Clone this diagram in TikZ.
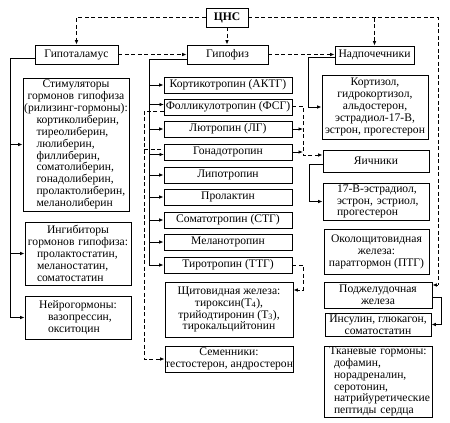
\documentclass[tikz,border=0pt]{standalone}
\usepackage{fontspec}
\setmainfont{Liberation Serif}
\usetikzlibrary{arrows.meta}
\hyphenpenalty=10000
\exhyphenpenalty=10000
\newcommand\cenl[1]{\makebox[\linewidth]{#1}}
\newcommand\lefl[1]{\mbox{#1}}
\begin{document}
\begin{tikzpicture}[x=1pt,y=-1pt,
  txt/.style={font=\fontsize{11.6}{11.9}\selectfont},
  box/.style={draw, line width=0.85pt, inner sep=0pt, align=center, txt},
  hbox/.style={box, minimum width=128, minimum height=16},
  ln/.style={line width=0.85pt},
  dsh/.style={line width=0.85pt, dash pattern=on 4pt off 2.5pt},
  arr/.style={-{Latex[length=4.5pt,width=3.6pt]}},
]
\useasboundingbox (0,0) rectangle (450,423);

% top row
\node[box,minimum width=42,minimum height=19,font=\fontsize{11.6}{11.9}\selectfont\bfseries] (cns) at (227,17.5) {ЦНС};
\node[box,minimum width=83,minimum height=19] (hypo) at (76.5,54.5) {Гипоталамус};
\node[box,minimum width=81,minimum height=19] (pit) at (227.5,54.5) {Гипофиз};
\node[box,minimum width=79,minimum height=18] (adr) at (374.5,55) {Надпочечники};

% left column
\node[box,minimum width=106,minimum height=133,text width=79,align=left] (stim) at (76,144.5)
 {\cenl{Стимуляторы}\\ \cenl{гормонов гипофиза}\\ \cenl{(рилизинг-гормоны):}\\
  \lefl{кортиколиберин,}\\ \lefl{тиреолиберин,}\\ \lefl{люлиберин,}\\ \lefl{филлиберин,}\\
  \lefl{соматолиберин,}\\ \lefl{гонадолиберин,}\\ \lefl{пролактолиберин,}\\ \lefl{меланолиберин}};
\node[box,minimum width=106,minimum height=63,text width=82,align=left] (inhib) at (78,253.5)
 {\cenl{Ингибиторы}\\ \cenl{гормонов гипофиза:}\\ \lefl{пролактостатин,}\\ \lefl{меланостатин,}\\ \lefl{соматостатин}};
\node[box,minimum width=106,minimum height=43,text width=60,align=left] (neuro) at (78,317.5)
 {\cenl{Нейрогормоны:}\\ \lefl{вазопрессин,}\\ \lefl{окситоцин}};

% middle column
\node[hbox] (h1) at (228,85) {Кортикотропин (АКТГ)};
\node[hbox] (h2) at (228,107) {Фолликулотропин (ФСГ)};
\node[hbox] (h3) at (228,129) {Лютропин (ЛГ)};
\node[hbox] (h4) at (228,152) {Гонадотропин};
\node[hbox] (h5) at (228,175) {Липотропин};
\node[hbox] (h6) at (228,197) {Пролактин};
\node[hbox] (h7) at (228,220) {Соматотропин (СТГ)};
\node[hbox] (h8) at (228,242) {Меланотропин};
\node[hbox] (h9) at (228,265) {Тиротропин (ТТГ)};
\node[box,minimum width=128,minimum height=55] (thy) at (229,309.5)
 {Щитовидная железа:\\ тироксин(Т\textsubscript{4}),\\ трийодтиронин (Т\textsubscript{3}),\\ тирокальцийтонин};
\node[box,minimum width=128,minimum height=26] (testes) at (229,359)
 {Семенники:\\ тестостерон, андростерон};

% right column
\node[box,minimum width=106,minimum height=64] (cort) at (375,107)
 {Кортизол,\\ гидрокортизол,\\ альдостерон,\\ эстрадиол-17-В,\\ эстрон, прогестерон};
\node[box,minimum width=106,minimum height=22] (ovar) at (376,161) {Яичники};
\node[box,minimum width=106,minimum height=37,text width=78,align=left] (estr) at (376,201.5)
 {\lefl{17-В-эстрадиол,}\\ \lefl{эстрон, эстриол,}\\ \lefl{прогестерон}};
\node[box,minimum width=105,minimum height=45] (parat) at (376.5,251.5)
 {Околощитовидная\\ железа:\\ паратгормон (ПТГ)};
\node[box,minimum width=108,minimum height=26] (panc) at (378,295)
 {Поджелудочная\\ железа};
\node[box,minimum width=106,minimum height=23] (ins) at (378,324.5)
 {Инсулин, глюкагон,\\ соматостатин};
\node[box,minimum width=108,minimum height=71,text width=88,align=left] (tissue) at (378,381.5)
 {\cenl{Тканевые гормоны:}\\ \lefl{дофамин,}\\ \lefl{норадреналин,}\\ \lefl{серотонин,}\\ \lefl{натрийуретические}\\ \lefl{пептиды сердца}};

% CNS dashed connectors
\draw[dsh,arr] (cns.west) -| (hypo.north);
\draw[dsh,arr] (cns.south) -- (cns.south |- pit.north);
\coordinate (rtop) at (438,17.5);
\coordinate (rbot) at (438,285);
\draw[dsh] (cns.east) -- (rtop) -- (rbot);
\draw[dsh,arr] (rbot) -- (panc.east |- rbot);
\draw[dsh,arr] (adr.north |- cns.east) -- (adr.north);
\draw[dsh,arr] (hypo.east) -- (pit.west);
\draw[dsh,arr] (pit.east) -- (adr.west |- pit.east);

% hypothalamus solid
\coordinate (L0) at (10,58);
\draw[ln,arr] (hypo.west |- L0) -- (L0) |- (neuro.west);
\draw[ln,arr] (L0 |- stim.west) -- (stim.west);
\draw[ln,arr] (L0 |- inhib.west) -- (inhib.west);

% pituitary solid
\coordinate (M0) at (149,59);
\draw[ln,arr] (pit.west |- M0) -- (M0) |- (h9.west);
\foreach \h in {h1,h3,h5,h6,h7,h8} \draw[ln,arr] (M0 |- \h.west) -- (\h.west);
\coordinate (f2) at (164,104.5);
\coordinate (f4) at (164,154.5);
\draw[ln,arr] (M0 |- f2) -- (f2);
\draw[ln,arr] (M0 |- f4) -- (f4);

% gonadotropic dashed to testes
\coordinate (DL1) at (144,111);
\coordinate (DL2) at (144,149);
\draw[dsh,arr] (h2.west |- DL1) -- (DL1) |- (testes.west);
\draw[dsh] (DL2) -- (h4.west |- DL2);

% gonadotropic dashed to ovaries
\coordinate (DR1) at (303,106);
\coordinate (DR2) at (303,155);
\draw[dsh,arr] (h2.east |- DR1) -- (DR1) -- (DR2) -- (ovar.west |- DR2);
\draw[ln,arr] (h3.east) -- (DR1 |- h3.east);
\draw[ln,arr] (h4.east) -- (DR1 |- h4.east);

% thyrotropin
\coordinate (T1) at (303,265);
\coordinate (T2) at (303,290);
\draw[dsh,arr] (h9.east) -- (T1) -- (T2) -- (thy.east |- T2);

% glands to hormones
\coordinate (A1) at (308,57);
\draw[ln,arr] (adr.west |- A1) -- (A1) |- (cort.west);
\coordinate (O1) at (309,164);
\draw[ln,arr] (ovar.west |- O1) -- (O1) |- (estr.west);
\coordinate (P1) at (441,297);
\draw[ln,arr] (panc.east |- P1) -- (P1) |- (ins.east);
\end{tikzpicture}
\end{document}
